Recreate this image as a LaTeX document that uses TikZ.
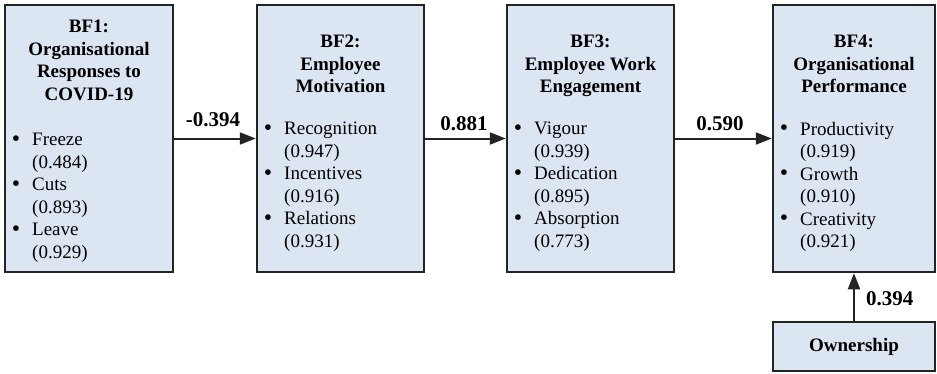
\documentclass[tikz,border=0pt]{standalone}
\usepackage{fontspec}
\setmainfont{Liberation Serif}
\usetikzlibrary{arrows.meta}
\definecolor{boxfill}{RGB}{220,230,242}
\definecolor{boxline}{RGB}{35,35,35}
\newcommand{\bsz}{\fontsize{19}{22.5}\selectfont}
\newcommand{\lsz}{\fontsize{21}{24}\selectfont}
\newcommand{\itm}{\llap{\raisebox{-0.5pt}{\scalebox{1.25}{\textbullet}}\hspace{12pt}}}
\begin{document}
\begin{tikzpicture}[x=1pt,y=-1pt,
  box/.style={draw=boxline, fill=boxfill, line width=2.5pt, inner sep=0pt, minimum height=267pt},
  head/.style={anchor=north, align=center, inner sep=0pt, font=\bsz\bfseries},
  items/.style={anchor=north west, align=left, inner sep=0pt, font=\bsz},
  arr/.style={draw=boxline, line width=2pt, -{Triangle[length=16pt,width=12pt]}},
  lab/.style={inner sep=0pt, font=\lsz\bfseries}]
\useasboundingbox (0,0) rectangle (937,373);
% boxes
\node[box, minimum width=168pt] (b1) at (89,138.5) {};
\node[box, minimum width=167pt] (b2) at (340.5,138.5) {};
\node[box, minimum width=167pt] (b3) at (590.5,138.5) {};
\node[box, minimum width=162pt] (b4) at (854,138.5) {};
\node[box, minimum width=162pt, minimum height=49pt, font=\bsz\bfseries] (own) at (854,346.5) {Ownership};
% headings
\node[head] (h1) at (89,20) {BF1:\\Organisational\\Responses to\\COVID-19};
\node[head] (h2) at (340.5,35) {BF2:\\Employee\\Motivation};
\node[head] (h3) at (590.5,35) {BF3:\\Employee Work\\Engagement};
\node[head] (h4) at (854,35) {BF4:\\Organisational\\Performance};
% item lists
\node[items] (l1) at (32,133) {\itm Freeze\\(0.484)\\\itm Cuts\\(0.893)\\\itm Leave\\(0.929)};
\node[items] (l2) at (284,122) {\itm Recognition\\(0.947)\\\itm Incentives\\(0.916)\\\itm Relations\\(0.931)};
\node[items] (l3) at (534,122) {\itm Vigour\\(0.939)\\\itm Dedication\\(0.895)\\\itm Absorption\\(0.773)};
\node[items] (l4) at (800,122) {\itm Productivity\\(0.919)\\\itm Growth\\(0.910)\\\itm Creativity\\(0.921)};
% connectors
\draw[arr] (b1.east) -- (b2.west);
\draw[arr] (b2.east) -- (b3.west);
\draw[arr] (b3.east) -- (b4.west);
\draw[arr] (own.north) -- (b4.south);
% labels
\node[lab] (e12) at (213,120) {-0.394};
\node[lab] (e23) at (464,124) {0.881};
\node[lab] (e34) at (720,124) {0.590};
\node[lab, anchor=west] (eo) at (866,299) {0.394};
\end{tikzpicture}
\end{document}
